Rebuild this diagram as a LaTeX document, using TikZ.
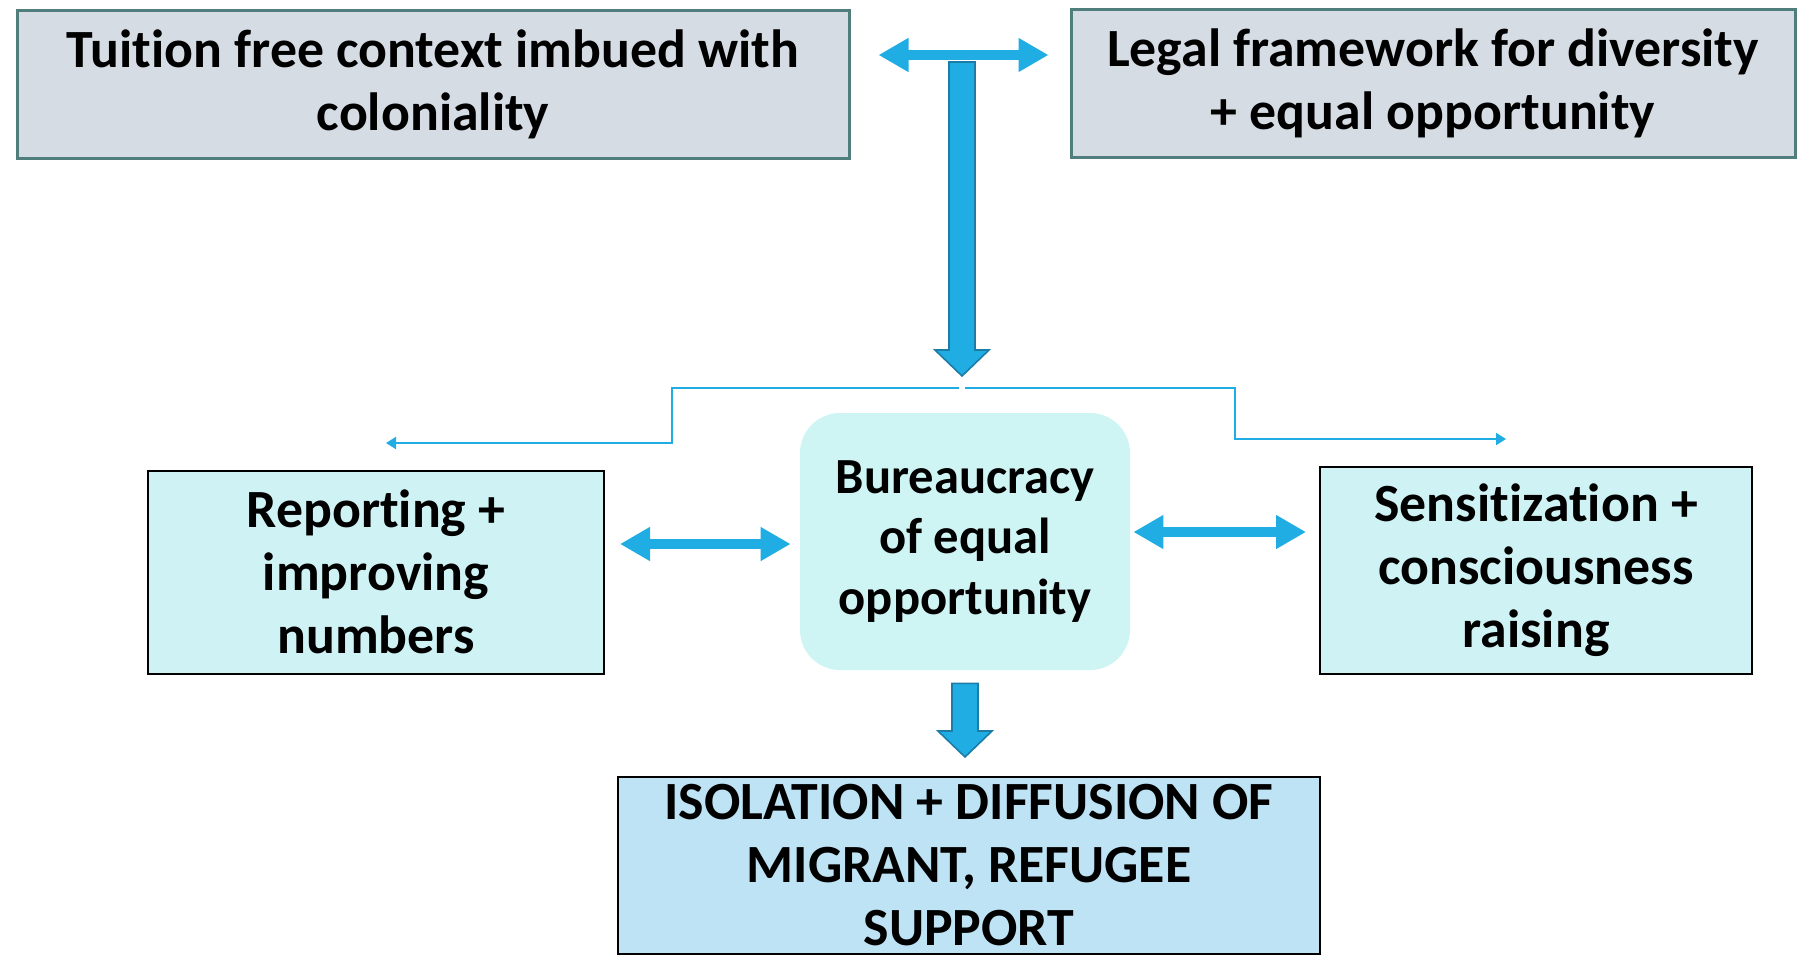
\documentclass[tikz,border=0pt]{standalone}
\usepackage{fontspec}
\setmainfont[Ligatures=NoCommon]{Carlito}
\usetikzlibrary{arrows.meta,positioning,calc}
\definecolor{arrowblue}{RGB}{31,173,227}
\definecolor{arrowedge}{RGB}{27,125,166}
\definecolor{contextgray}{RGB}{214,220,228}
\definecolor{contextteal}{RGB}{80,126,124}
\definecolor{sideteal}{RGB}{207,243,245}
\definecolor{coreteal}{RGB}{207,244,244}
\definecolor{outcomeblue}{RGB}{189,227,245}

\newcommand{\blockdown}[2]{%
  \draw[blockarrow] ($(#1)+(-13,0)$) -- ($(#2)+(-13,-26)$) -- ($(#2)+(-27,-26)$) -- (#2)
    -- ($(#2)+(27,-26)$) -- ($(#2)+(13,-26)$) -- ($(#1)+(13,0)$) -- cycle;}

\begin{document}
\begin{tikzpicture}[
x=0.5pt, y=-0.5pt,
every node/.style={align=center, inner sep=0pt, font=\bfseries\fontsize{26.9}{31.5}\selectfont},
context/.style={draw=contextteal, line width=1.5pt, fill=contextgray, minimum height=74pt},
side/.style={draw=black, line width=1pt, fill=sideteal},
core/.style={fill=coreteal, rounded corners=20pt, minimum width=165pt, minimum height=128.5pt, font=\bfseries\fontsize{25.3}{30.4}\selectfont},
outcome/.style={draw=black, line width=1pt, fill=outcomeblue, minimum width=351pt, minimum height=88.5pt},
dblarrow/.style={{Triangle[length=15pt,width=16pt]}-{Triangle[length=15pt,width=16pt]}, line width=5pt, draw=arrowblue},
branch/.style={-{Triangle[length=5pt,width=6pt]}, line width=1pt, draw=arrowblue},
blockarrow/.style={fill=arrowblue, draw=arrowedge, line width=0.8pt, line join=miter}
]
\useasboundingbox (0,0) rectangle (1798,955);

\node[context, minimum width=416pt] (tuition) at (433,84) {Tuition free context imbued with\\coloniality};
\node[context, minimum width=362pt] (legal) at (1433,83) {Legal framework for diversity\\+ equal opportunity};
\node[side, minimum width=228pt, minimum height=101.5pt] (reporting) at (376,572) {Reporting +\\improving\\numbers};
\node[core] (bureau) at (965,541.5) {Bureaucracy\\of equal\\opportunity};
\node[side, minimum width=216pt, minimum height=103.5pt] (sensit) at (1536,570) {Sensitization +\\consciousness\\raising};
\node[outcome] (isolation) at (969,865.5) {ISOLATION + DIFFUSION OF\\MIGRANT, REFUGEE\\SUPPORT};

\coordinate (stem) at (962,62);
\coordinate (stemtip) at (962,376);
\coordinate (split) at (962,388);
\coordinate (leftend) at (386,443);
\coordinate (rightend) at (1506,439);
\coordinate (outtop) at ([yshift=-6.5pt]bureau.south);
\coordinate (outtip) at ([yshift=9.5pt]bureau.south |- isolation.north);

\blockdown{stem}{stemtip}
\draw[dblarrow] ([xshift=14pt,yshift=14.5pt]tuition.east) -- ([xshift=-10.5pt,yshift=14.5pt]legal.west |- tuition.east);
\draw[branch] ([xshift=-1.5pt]split) -- ++(-287,0) |- (leftend);
\draw[branch] ([xshift=1.5pt]split) -- ++(270,0) |- (rightend);
\draw[dblarrow] ([xshift=7.5pt,yshift=-1.25pt]reporting.east |- bureau.west) -- ([xshift=-4.5pt,yshift=-1.25pt]bureau.west);
\draw[dblarrow] ([xshift=1.5pt,yshift=4.75pt]bureau.east) -- ([xshift=-6.5pt,yshift=4.75pt]sensit.west |- bureau.east);
\blockdown{outtop}{outtip}
\end{tikzpicture}
\end{document}
